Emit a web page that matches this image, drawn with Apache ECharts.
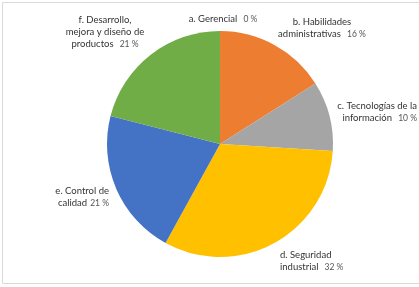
<!DOCTYPE html>
<html>
<head>
<meta charset="utf-8">
<script src="https://cdn.jsdelivr.net/npm/echarts@6/dist/echarts.min.js"></script>
<style>
  html, body { margin: 0; padding: 0; background: #fff; }
  #pie { width: 419px; height: 287px; }
</style>
</head>
<body>
<div id="pie"></div>
<script>
var categories = ['a. Gerencial', 'b. Habilidades\nadministrativas', 'c. Tecnologías de la\ninformación',
    'd. Seguridad\nindustrial', 'e. Control de\ncalidad', 'f. Desarrollo,\nmejora y diseño de\nproductos'];
var values = [0, 16, 10, 32, 21, 21];
var colors = ['#4472C4', '#ED7D31', '#A5A5A5', '#FFC000', '#4472C4', '#70AD47'];

// where each label sits (x, y, text align, gap before the %)
var labelPos = [
    [223, 19, 'center', '  '],
    [322, 28, 'center', '  '],
    [417, 112, 'right', '  '],
    [280, 261, 'left', '  '],
    [109, 197, 'right', ' '],
    [105, 32, 'center', '  ']
];

var myChart = echarts.init(document.getElementById('pie'));

var data = [];
for (var i = 0; i < values.length; i++) {
    data.push({
        value: values[i],
        name: categories[i],
        itemStyle: { color: colors[i] },
        label: { align: labelPos[i][2] }
    });
}

var option = {
    animation: false,
    graphic: [{
        type: 'rect',
        shape: { x: 2.5, y: 2.5, width: 430, height: 281 },
        style: { fill: 'none', stroke: '#d9d9d9', lineWidth: 1 },
        silent: true
    }],
    series: [{
        type: 'pie',
        radius: 113,
        center: [220, 144],
        startAngle: 90,
        clockwise: true,
        avoidLabelOverlap: false,
        itemStyle: { borderWidth: 0 },
        label: {
            show: true,
            position: 'outside',
            fontFamily: 'Lato',
            lineHeight: 12,
            formatter: function (p) {
                var lines = p.name.split('\n');
                var out = [];
                for (var k = 0; k < lines.length; k++) {
                    if (k == lines.length - 1) {
                        out.push('{n|' + lines[k] + '}' + labelPos[p.dataIndex][3] + '{p|' + p.value + ' %}');
                    } else {
                        out.push('{n|' + lines[k] + '}');
                    }
                }
                return out.join('\n');
            },
            rich: {
                n: { fontSize: 9.5, color: '#333333', fontFamily: 'Lato', lineHeight: 12 },
                p: { fontSize: 8.5, color: '#555555', fontFamily: 'Lato', lineHeight: 12 }
            }
        },
        labelLine: { show: false },
        labelLayout: function (params) {
            var pos = labelPos[params.dataIndex];
            return { x: pos[0], y: pos[1], align: pos[2], verticalAlign: 'middle' };
        },
        data: data
    }]
};

myChart.setOption(option);
</script>
</body>
</html>
